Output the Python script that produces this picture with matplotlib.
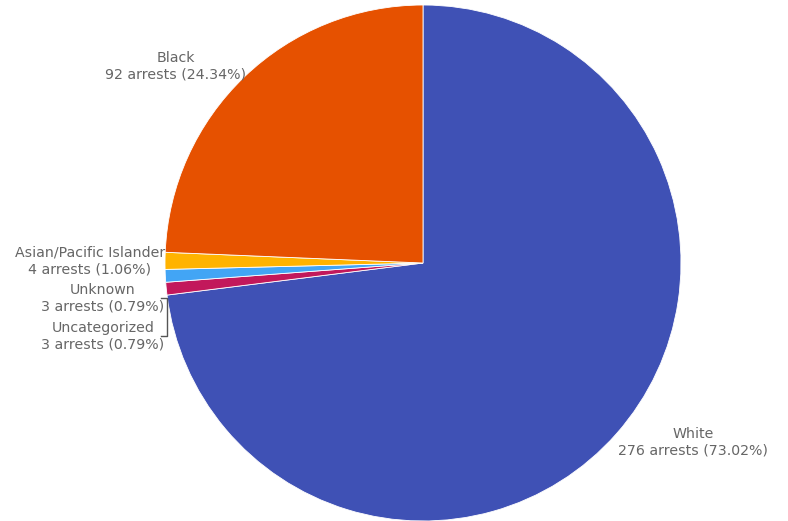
import matplotlib
matplotlib.use("Agg")
import matplotlib.pyplot as plt

races = ["White", "Uncategorized", "Unknown", "Asian/Pacific Islander", "Black"]
arrests = [276, 3, 3, 4, 92]
colors = ["#3F51B5", "#C2185B", "#42A5F5", "#FFB300", "#E65100"]

W, H = 788, 521
total = sum(arrests)

fig = plt.figure(figsize=(W / 100, H / 100), dpi=100)
ax = fig.add_axes([0, 0, 1, 1])

cx, cy, r = 423, H - 263, 258
ax.pie(
    arrests,
    colors=colors,
    startangle=90,
    counterclock=False,
    center=(cx, cy),
    radius=r,
    wedgeprops=dict(edgecolor="white", linewidth=0.6),
    frame=True,
)
ax.set_xlim(0, W)
ax.set_ylim(0, H)
ax.set_aspect("equal")
ax.axis("off")


def label(i):
    return f"{races[i]}\n{arrests[i]} arrests ({arrests[i] / total * 100:.2f}%)"


# label anchors in pixel coords (top-left origin)
label_pos = {
    0: (693, 442),
    1: (103, 336),
    2: (103, 298),
    3: (90, 261),
    4: (176, 66),
}
for i, (x, y) in label_pos.items():
    ax.text(x, H - y, label(i), ha="center", va="center", fontsize=10.2,
            color="#666666", linespacing=1.25)

# bracket joining the two tiny slices' labels
bx = [161, 167, 167, 161]
by = [H - 298, H - 298, H - 336, H - 336]
ax.plot(bx, by, color="#555555", linewidth=1)

fig.savefig("out.png", dpi=100)
